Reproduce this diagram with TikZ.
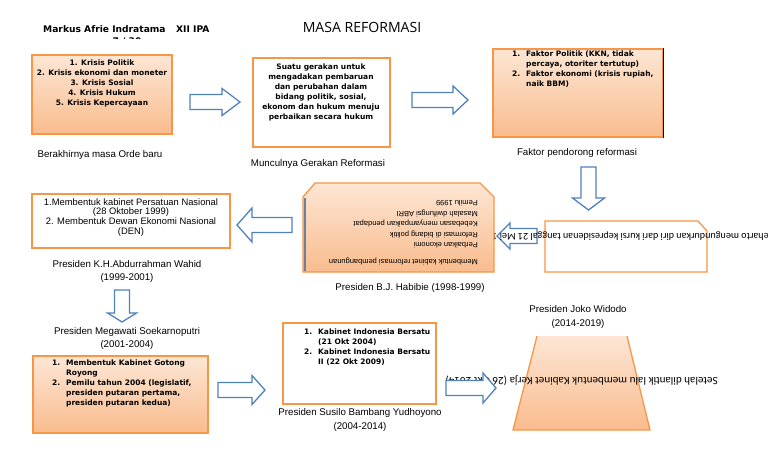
\documentclass[tikz,border=0pt]{standalone}
\usepackage{fontspec}
\usepackage{tikz}
\usetikzlibrary{fit}
\newfontfamily\boxFont{DejaVu Sans}
\newfontfamily\captionFont{Liberation Sans}
\newfontfamily\titleFont{Open Sans}
\newfontfamily\noteFont{Carlito}
\tikzstyle{diagram} = [x = 0.03cm, y = -0.03cm]
\definecolor{boxOrange}{RGB}{247,150,70}
\definecolor{arrowBlue}{RGB}{79,129,189}
\definecolor{shadeTop}{RGB}{253,230,212}
\definecolor{shadeBottom}{RGB}{249,188,142}
\tikzstyle{plainBox} = [draw=boxOrange, fill=white, line width=1.1pt, inner sep=0pt]
\tikzstyle{shadedBox} = [draw=boxOrange, top color=shadeTop, bottom color=shadeBottom, line width=1.1pt, inner sep=0pt]
\tikzstyle{boxText} = [font=\boxFont\bfseries\fontsize{6.4}{8.5}\selectfont, inner sep=0pt]
\tikzstyle{captionText} = [font=\captionFont\fontsize{8.3}{11.2}\selectfont, align=center, inner sep=0pt]
\tikzstyle{upsideDown} = [rotate=180, inner sep=0pt, anchor=west]
\tikzstyle{arrowStyle} = [draw=arrowBlue, fill=white, line width=1.1pt]
% x, y of the tail, angle, length, half head width, head length
\newcommand{\blockArrow}[6]{\filldraw [arrowStyle, shift={(#1,#2)}, rotate=#3] (0,-7.5) -- (#4-#6,-7.5) -- (#4-#6,-#5) -- (#4,0) -- (#4-#6,#5) -- (#4-#6,7.5) -- (0,7.5) -- cycle;}

\begin{document}
\begin{tikzpicture}[diagram]
  \useasboundingbox (0,0) rectangle (768,466);
  \clip (0,0) rectangle (768,466);
  \fill [white] (0,0) rectangle (768,466);

  % heading
  \node [font=\boxFont\bfseries\fontsize{7.8}{9}\selectfont, anchor=west, inner sep=0pt] (nameText) at (43,29) {Markus Afrie Indratama\hspace{9pt}XII IPA};
  \begin{scope}
    \clip (100,33) rectangle (160,38.5);
    \node [font=\boxFont\bfseries\fontsize{7.8}{9}\selectfont, inner sep=0pt] (numberText) at (127,42) {7 / 30};
  \end{scope}
  \node [font=\titleFont\fontsize{12}{14}\selectfont, inner sep=0pt] (titleText) at (362,27) {MASA REFORMASI};

  % first row
  \node [shadedBox, fit={(32,55) (172,134)}] (krisisBox) {};
  \node [boxText, align=center, anchor=north] (krisisText) at (102,60) {1. Krisis Politik\\2. Krisis ekonomi dan moneter\\3. Krisis Sosial\\4. Krisis Hukum\\5. Krisis Kepercayaan};
  \node [captionText] (orderCaption) at (100,155) {Berakhirnya masa Orde baru};
  \blockArrow{190}{102}{0}{50}{13.5}{18}

  \node [plainBox, fit={(253,58) (390,147)}] (gerakanBox) {};
  \node [boxText, align=center, anchor=north] (gerakanText) at (321,64) {Suatu gerakan untuk\\mengadakan pembaruan\\dan perubahan dalam\\bidang politik, sosial,\\ekonom dan hukum menuju\\perbaikan secara hukum};
  \node [captionText] (gerakanCaption) at (318,164) {Munculnya Gerakan Reformasi};
  \blockArrow{412}{100}{0}{56}{14}{15}

  \node [shadedBox, fit={(493,49) (663,137)}] (faktorBox) {};
  \draw [black, line width=1pt] (faktorBox.north east) -- (faktorBox.south east);
  \node [boxText, anchor=north west] (faktorText) at (512,49) {\begin{tabular}{@{}r@{\hspace{5pt}}l@{}}1. & Faktor Politik (KKN, tidak\\ & percaya, otoriter tertutup)\\2. & Faktor ekonomi (krisis rupiah,\\ & naik BBM)\end{tabular}};
  \node [captionText] (faktorCaption) at (577,153) {Faktor pendorong reformasi};
  \blockArrow{588.5}{167}{270}{43}{16}{12}

  % second row
  \draw [draw=boxOrange, fill=white, line width=1.1pt] (545,221) -- (698,221) -- (707,231) -- (707,272) -- (545,272) -- cycle;
  \blockArrow{537}{236}{180}{40}{13}{13}
  \node [upsideDown, font=\noteFont\fontsize{8.65}{10}\selectfont] (soehartoText) at (779,236) {Soeharto mengundurkan diri dari kursi kepresidenan tanggal 21 Mei 1998};

  \draw [draw=boxOrange, top color=shadeTop, bottom color=shadeBottom, line width=1.1pt] (315,183) -- (480,183) -- (494,197) -- (494,272) -- (303,272) -- (303,197) -- cycle;
  \draw [gray!60!arrowBlue, line width=1pt] (305,198) -- (305,271);
  \node [rotate=180, anchor=north west, align=left, inner sep=0pt, font=\captionFont\fontsize{6.4}{9}\selectfont] (habibieText) at (478,265) {Membentuk kabinet reformasi pembangunan\\[5pt]Perbaikan ekonomi\\Reformasi di bidang politik\\Kebebasan menyampaikan pendapat\\Masalah dwifungsi ABRI\\Pemilu 1999};
  \node [captionText] (habibieCaption) at (410,288) {Presiden B.J. Habibie (1998-1999)};
  \blockArrow{292}{225}{180}{55}{17}{15}

  \node [plainBox, fit={(32,194) (230,248)}] (wahidBox) {};
  \node [captionText, font=\captionFont\fontsize{8}{8.3}\selectfont, anchor=north] (wahidText) at (131,198) {1.Membentuk kabinet Persatuan Nasional\\(28 Oktober 1999)\\2. Membentuk Dewan Ekonomi Nasional\\(DEN)};
  \node [captionText] (wahidCaption) at (127,271.5) {Presiden K.H.Abdurrahman Wahid\\(1999-2001)};
  \blockArrow{122}{290}{270}{32}{14.5}{9}

  % third row
  \node [captionText] (megaCaption) at (127,338.5) {Presiden Megawati Soekarnoputri\\(2001-2004)};
  \node [shadedBox, fit={(33,356) (208,433)}] (megaBox) {};
  \node [boxText, anchor=north west] (megaText) at (52,358) {\begin{tabular}{@{}r@{\hspace{5pt}}l@{}}1. & Membentuk Kabinet Gotong\\ & Royong\\2. & Pemilu tahun 2004 (legislatif,\\ & presiden putaran pertama,\\ & presiden putaran kedua)\end{tabular}};
  \blockArrow{218}{390}{0}{47}{14.5}{13}

  \node [plainBox, fit={(283,323) (436,404)}] (sbyBox) {};
  \node [boxText, anchor=north west] (sbyText) at (304,327) {\begin{tabular}{@{}r@{\hspace{5pt}}l@{}}1. & Kabinet Indonesia Bersatu\\ & (21 Okt 2004)\\2. & Kabinet Indonesia Bersatu\\ & II (22 Okt 2009)\end{tabular}};
  \node [captionText] (sbyCaption) at (360,420) {Presiden Susilo Bambang Yudhoyono\\(2004-2014)};

  \shade [top color=shadeTop, bottom color=shadeBottom] (537,336) -- (627,336) -- (650,430) -- (513,430) -- cycle;
  \draw [draw=boxOrange, line width=1.1pt] (537,336) -- (513,430) -- (650,430) -- (627,336);
  \node [upsideDown, font=\noteFont\fontsize{9.5}{11}\selectfont] (jokoText) at (718,381) {Setelah dilantik lalu membentuk Kabinet Kerja (26 Okt 2014)};
  \blockArrow{446}{388}{0}{50}{15}{13}
  \node [captionText] (jokoCaption) at (578,317) {Presiden Joko Widodo\\(2014-2019)};
\end{tikzpicture}
\end{document}
